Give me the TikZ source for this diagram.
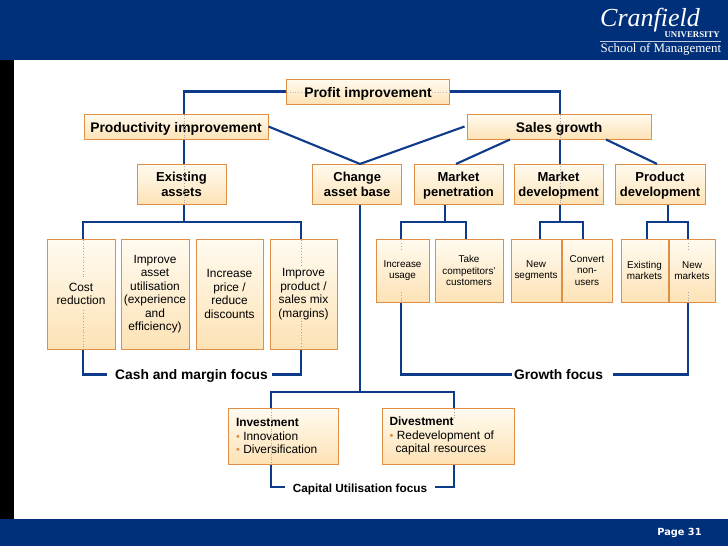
\documentclass[tikz,border=0pt]{standalone}
\usepackage{fontspec}
\setmainfont{Liberation Sans}
\newfontfamily\logofont{Liberation Serif}
\newfontfamily\pagefont{DejaVu Sans}
\definecolor{headblue}{HTML}{00307A}
\definecolor{linkblue}{HTML}{0E3A8A}
\definecolor{boxedge}{HTML}{DE8F45}
\definecolor{boxtop}{HTML}{FFFBF0}
\definecolor{boxbottom}{HTML}{FDE2B5}
\newcommand{\sz}[2]{\fontsize{#1}{#2}\selectfont}
\newcommand{\bul}{\makebox[7.3pt][l]{\textcolor{boxedge}{\sz{11}{8}•}}}

\begin{document}
\begin{tikzpicture}[x=1pt, y=-1pt, every node/.style={inner sep=0pt, align=center},
  box/.style={rectangle, draw=boxedge, line width=1pt, top color=boxtop, bottom color=boxbottom},
  headbox/.style={box, font=\bfseries\sz{13.9}{15}, text height=11pt, text depth=0pt},
  twobox/.style={box, font=\bfseries\sz{13}{15}, text depth=0pt},
  midbox/.style={box, font=\sz{11.9}{13.5}},
  smallbox/.style={box, font=\sz{9.9}{11.2}},
  focus/.style={font=\bfseries\sz{13.8}{15}, text height=10pt, text depth=1pt},
  link/.style={draw=linkblue, line width=2.1pt, line join=miter},
  ghost/.style={draw=black!35, line width=0.8pt, dotted}]
\useasboundingbox (0,0) rectangle (728,546);
\fill[white] (0,0) rectangle (728,546);
\fill[headblue] (0,0) rectangle (728,60);
\fill[black] (0,60) rectangle (14,519);
\fill[headblue] (0,519) rectangle (728,546);

% logo and page number
\node (cranfield) [anchor=base west, text=white, font=\logofont\itshape\sz{26}{27}] at (600,27) {Cranfield};
\node (university) [anchor=base east, text=white, font=\logofont\bfseries\sz{8.8}{9}] at (720,37) {UNIVERSITY};
\node (school) [anchor=base west, text=white, font=\logofont\sz{12.9}{13}] at (600.5,52.5) {School of Management};
\draw[white!75!headblue, line width=0.6pt] (600,41.5) -- (721,41.5);
\node (page) [anchor=center, text=white, font=\pagefont\bfseries\sz{9.8}{10}] at (679.5,532.5) {Page 31};

% top levels
\node (profit) [headbox, minimum width=163pt, minimum height=25pt] at (368,91.5) {Profit improvement};
\node (prod) [headbox, minimum width=184pt, minimum height=25pt] at (176,126.5) {Productivity improvement};
\node (sales) [headbox, minimum width=184pt, minimum height=25pt] at (559,126.5) {Sales growth};
\node (existing) [twobox, minimum width=89pt, minimum height=40.5pt] at (181.5,184.7) {Existing\\assets};
\node (change) [twobox, minimum width=88.5pt, minimum height=40.5pt] at (357.2,184.7) {Change\\asset base};
\node (penet) [twobox, minimum width=89pt, minimum height=40.5pt] at (458.5,184.7) {Market\\penetration};
\node (mdev) [twobox, minimum width=89pt, minimum height=40.5pt] at (558.5,184.7) {Market\\development};
\node (pdev) [twobox, minimum width=90pt, minimum height=40.5pt] at (660,184.7) {Product\\development};

% cash and margin boxes
\node (cost) [midbox, minimum width=68pt, minimum height=110pt] at (81,294) {Cost\\reduction};
\node (asset) [midbox, minimum width=68pt, minimum height=110pt] at (155,294) {Improve\\asset\\utilisation\\(experience\\and\\efficiency)};
\node (price) [midbox, minimum width=67pt, minimum height=110pt] at (229.5,294) {Increase\\price /\\reduce\\discounts};
\node (mix) [midbox, minimum width=67pt, minimum height=110pt] at (303.5,294) {Improve\\product /\\sales mix\\(margins)};

% growth boxes
\node (usage) [smallbox, minimum width=53pt, minimum height=63pt] at (402.5,270.5) {Increase\\usage};
\node (take) [smallbox, minimum width=68pt, minimum height=63pt] at (469,270.5) {Take\\competitors'\\customers};
\node (segments) [smallbox, minimum width=50pt, minimum height=63pt] at (536,270.5) {New\\segments};
\node (convert) [smallbox, minimum width=50pt, minimum height=63pt] at (587,270.5) {Convert\\non-\\users};
\node (exmarkets) [smallbox, minimum width=47pt, minimum height=63pt] at (644.5,270.5) {Existing\\markets};
\node (newmarkets) [smallbox, minimum width=46pt, minimum height=63pt] at (692,270.5) {New\\markets};

% capital boxes
\node (invest) [box, minimum width=110pt, minimum height=56pt, align=left, text width=94pt, font=\sz{11.9}{13}] at (283,436) {\textbf{Investment}\\[1.3pt]\bul Innovation\\\bul Diversification};
\node (divest) [box, minimum width=132pt, minimum height=56pt, align=left, text width=117pt, font=\sz{11.9}{13}] at (448,436) {\textbf{Divestment}\\[1.3pt]\bul Redevelopment of\\\hspace*{6pt}capital resources};

% focus labels
\node (cash) [focus] at (191.5,374.5) {Cash and margin focus};
\node (growth) [focus] at (558.5,374.5) {Growth focus};
\node (capital) [focus, font=\bfseries\sz{11.8}{13}, text height=11pt, text depth=0pt] at (360,487) {Capital Utilisation focus};

% bus positions
\coordinate (pleft) at (184,222);
\coordinate (pright) at (560,222);
\coordinate (cbase) at (360,392);
\coordinate (aleft) at (83,222);
\coordinate (aright) at (301,222);
\coordinate (uleft) at (401,222);
\coordinate (uright) at (466,222);
\coordinate (mbus) at (445,222);
\coordinate (sleft) at (540,222);
\coordinate (sright) at (583,222);
\coordinate (dbus) at (668,222);
\coordinate (eleft) at (647,222);
\coordinate (eright) at (688,222);
\coordinate (ileft) at (271,392);
\coordinate (iright) at (454,392);

\draw[link] (profit.west) -- (profit.west -| pleft) -- (prod.north -| pleft);
\draw[link] (profit.east) -- (profit.east -| pright) -- (sales.north -| pright);
\draw[link] (prod.south -| pleft) -- (existing.north -| pleft);
\draw[link] (sales.south -| pright) -- (mdev.north -| pright);
\draw[link] (prod.east) -- (change.north -| cbase);
\draw[link] ([xshift=-2pt]sales.west) -- (change.north -| cbase);
\draw[link] ([xshift=-49pt]sales.south) -- ([xshift=-2.5pt]penet.north);
\draw[link] ([xshift=47pt]sales.south) -- ([xshift=-3pt]pdev.north);

\draw[link] (existing.south -| pleft) -- (pleft);
\draw[link] (cost.north -| aleft) -- (aleft) -- (aright) -- (mix.north -| aright);
\draw[link] (penet.south -| mbus) -- (mbus);
\draw[link] (usage.north -| uleft) -- (uleft) -- (uright) -- (take.north -| uright);
\draw[link] (mdev.south -| pright) -- (pright);
\draw[link] (segments.north -| sleft) -- (sleft) -- (sright) -- (convert.north -| sright);
\draw[link] (pdev.south -| dbus) -- (dbus);
\draw[link] (exmarkets.north -| eleft) -- (eleft) -- (eright) -- (newmarkets.north -| eright);

\draw[link] (change.south -| cbase) -- (cbase);
\draw[link] (invest.north -| ileft) -- (ileft) -- (iright) -- (divest.north -| iright);

\draw[link] (cost.south -| aleft) -- (cash.west -| aleft) -- ([xshift=-8pt]cash.west);
\draw[link] (mix.south -| aright) -- (cash.east -| aright) -- ([xshift=4pt]cash.east);
\draw[link] (usage.south -| uleft) -- (growth.west -| uleft) -- ([xshift=-2pt]growth.west);
\draw[link] (newmarkets.south -| eright) -- (growth.east -| eright) -- ([xshift=10pt]growth.east);
\draw[link] (invest.south -| ileft) -- (capital.west -| ileft) -- ([xshift=-8pt]capital.west);
\draw[link] (divest.south -| iright) -- (capital.east -| iright) -- ([xshift=8pt]capital.east);

% faint traces of the lines inside the boxes
\foreach \px/\from/\to in {184/115/138, 560/115/138, 184/166/204, 560/166/204, 83/240/278, 83/310/348, 301/240/266, 301/318/348, 401/243/251, 401/292/301, 688/243/251, 688/292/301, 271/409/463, 454/409/420}
  \draw[ghost] (\px,\from) -- (\px,\to);
\draw[ghost, black!25] (287,92) -- (304,92);
\draw[ghost, black!25] (432,92) -- (449,92);
\end{tikzpicture}
\end{document}
